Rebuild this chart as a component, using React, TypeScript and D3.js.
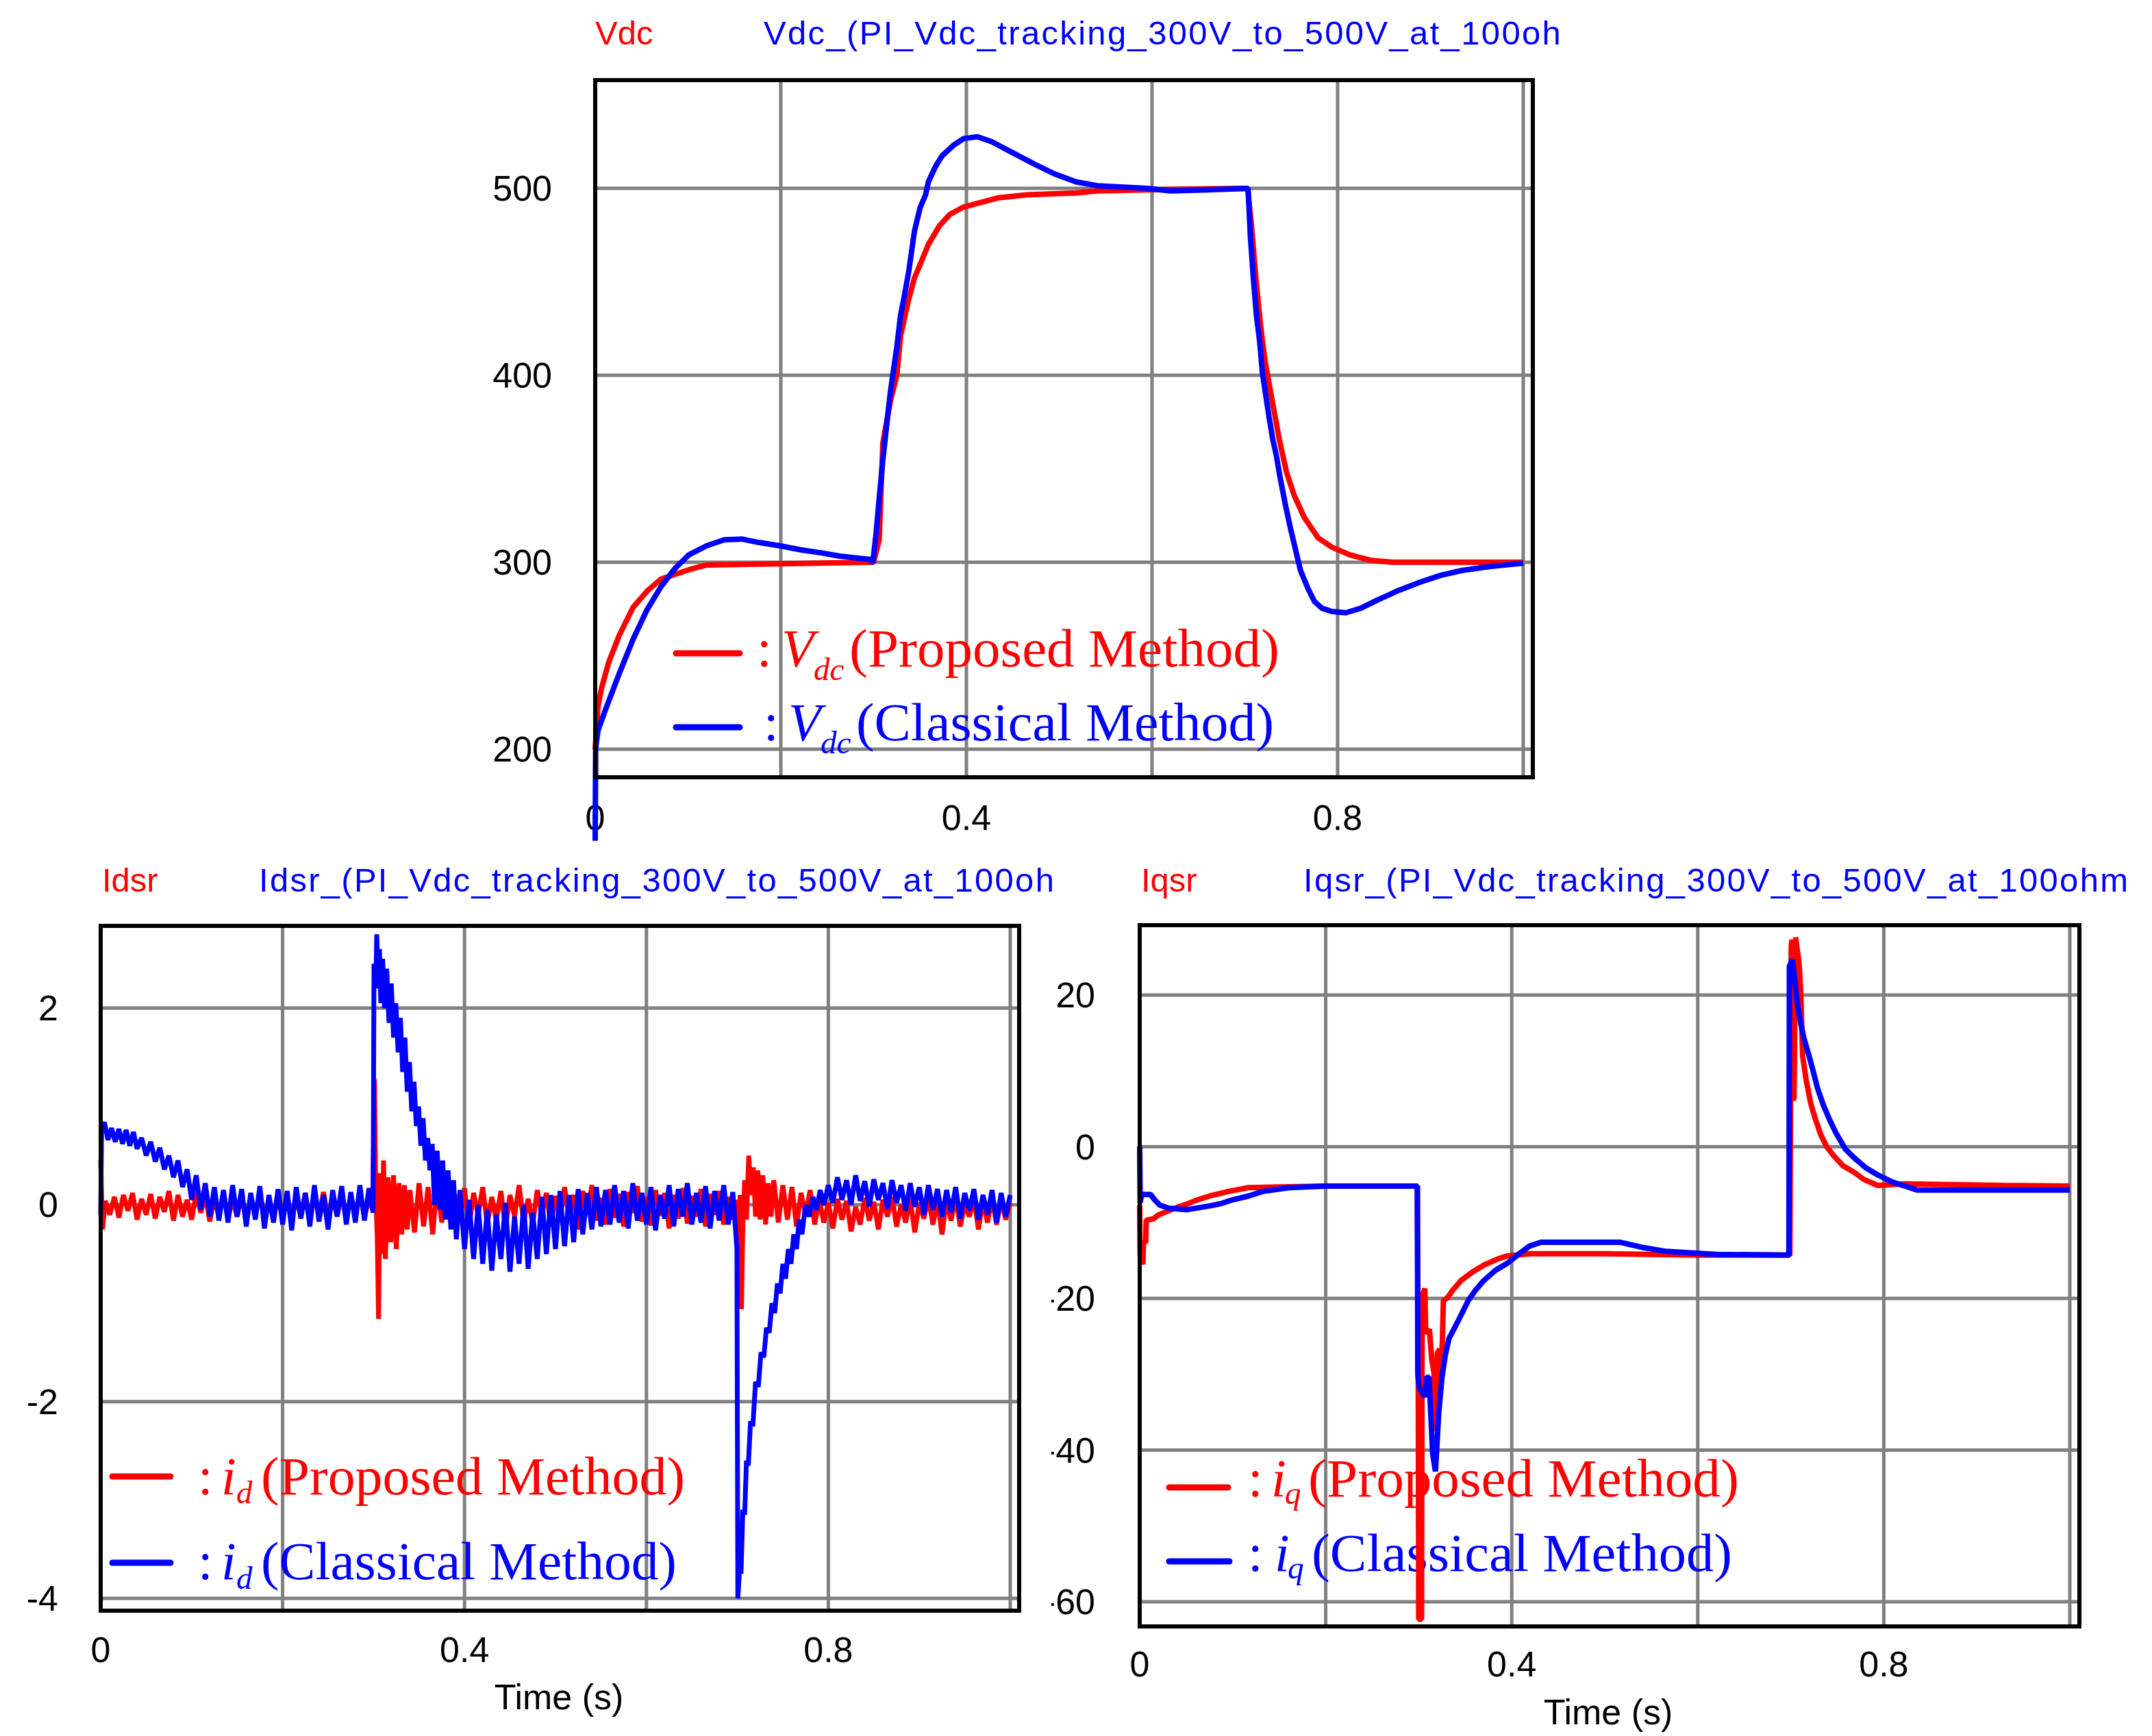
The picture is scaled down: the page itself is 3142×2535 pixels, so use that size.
import * as React from 'react';
import * as d3 from 'd3';

type Pt = [number, number];

const RED = '#ff0000';
const BLUE = '#0000ff';
const GRID = '#808080';

// tick values / labels
const timeTicks = [0, 0.4, 0.8];
const timeGrid = [0.2, 0.4, 0.6, 0.8, 1.0];
const vdcTicks = [200, 300, 400, 500];
const idsrTicks = [2, 0, -2, -4];
const iqsrTicks = [20, 0, -20, -40, -60];

// Vdc (V)
const vdcProposed: Pt[] = [
  [0, 200], [0.003, 223], [0.007, 233], [0.0146, 246.5], [0.026, 261], [0.041, 276], [0.056, 284.6],
  [0.071, 291], [0.086, 293.5], [0.101, 296], [0.12, 298.5], [0.2, 299.2], [0.3, 300], [0.306, 312],
  [0.31, 364], [0.318, 386], [0.325, 400], [0.329, 421], [0.337, 439], [0.344, 452], [0.352, 461.5],
  [0.359, 470], [0.371, 480], [0.382, 486], [0.397, 490], [0.412, 492], [0.435, 495], [0.465, 496.5],
  [0.518, 497.5], [0.541, 498.6], [0.632, 499.5], [0.703, 500], [0.707, 481], [0.711, 457], [0.715, 436],
  [0.719, 418], [0.722, 407], [0.73, 385], [0.737, 366], [0.745, 348], [0.753, 336], [0.764, 324],
  [0.779, 313], [0.794, 308], [0.813, 304], [0.836, 301], [0.859, 300], [1.0, 300],
];
const vdcClassical: Pt[] = [
  [0, 151], [0.0005, 200.5], [0.003, 210], [0.011, 221], [0.026, 240.6], [0.041, 259], [0.056, 274.7],
  [0.071, 287], [0.086, 296.7], [0.101, 304], [0.12, 308.8], [0.139, 312], [0.158, 312.4], [0.176, 310.6],
  [0.199, 308.8], [0.222, 306.6], [0.244, 305], [0.263, 303.3], [0.297, 301.5], [0.299, 299.5],
  [0.3026, 315], [0.306, 334], [0.31, 355], [0.314, 373], [0.318, 390.7], [0.3215, 403],
  [0.325, 415], [0.329, 432], [0.333, 442], [0.338, 456], [0.344, 477], [0.35, 489.5], [0.356, 496.5],
  [0.359, 503.5], [0.367, 512], [0.374, 517.5], [0.386, 523], [0.397, 526.6], [0.412, 527.6],
  [0.427, 525], [0.45, 519], [0.473, 513], [0.495, 507.7], [0.518, 503.5], [0.541, 501.4], [0.594, 500],
  [0.62, 498.6], [0.66, 499.2], [0.7035, 500], [0.706, 474], [0.709, 453], [0.7125, 432], [0.716, 418],
  [0.719, 401], [0.726, 378], [0.73, 366], [0.734, 357], [0.7375, 346.7], [0.7436, 331], [0.749, 318.5],
  [0.755, 306], [0.76, 295.6], [0.768, 286], [0.775, 279], [0.783, 275.4], [0.794, 273.6], [0.809, 273],
  [0.825, 275.4], [0.843, 279.8], [0.866, 285], [0.889, 289.4], [0.911, 293], [0.934, 295.6],
  [0.964, 297.7], [1.0, 299.5],
];

// Idsr (A)
const idsrProposed: Pt[] = [
  [0, 0.45], [0.002, -0.25], [0.005, 0.04], [0.01, -0.1], [0.015, 0.08], [0.02, -0.13], [0.025, 0.1],
  [0.03, -0.06], [0.035, 0.12], [0.04, -0.15], [0.045, 0.06], [0.05, -0.1], [0.055, 0.11], [0.06, -0.14],
  [0.065, 0.08], [0.07, -0.07], [0.075, 0.14], [0.08, -0.16], [0.085, 0.1], [0.09, -0.12], [0.095, 0.05],
  [0.1, -0.15], [0.105, 0.12], [0.11, -0.08], [0.115, 0.09], [0.12, -0.17], [0.125, 0.07], [0.13, -0.11],
  [0.135, 0.13], [0.14, -0.14], [0.145, 0.06], [0.15, -0.12], [0.155, 0.1], [0.16, -0.16], [0.165, 0.08],
  [0.17, -0.09], [0.175, 0.12], [0.18, -0.13], [0.185, 0.05], [0.19, -0.15], [0.195, 0.11], [0.2, -0.1],
  [0.205, 0.09], [0.21, -0.14], [0.215, 0.07], [0.22, -0.12], [0.225, 0.12], [0.23, -0.16], [0.235, 0.08],
  [0.24, -0.09], [0.245, 0.13], [0.25, -0.14], [0.255, 0.06], [0.26, -0.11], [0.265, 0.1], [0.27, -0.15],
  [0.275, 0.09], [0.28, -0.08], [0.285, 0.12], [0.29, -0.13], [0.295, 0.07], [0.299, -0.05],
  [0.301, 1.28], [0.3025, 0.05], [0.304, -0.3], [0.3055, -1.16], [0.307, 0.32], [0.309, -0.5],
  [0.311, 0.45], [0.313, -0.55], [0.316, 0.28], [0.319, -0.38], [0.322, 0.3], [0.325, -0.45],
  [0.328, 0.22], [0.331, -0.3], [0.334, 0.2], [0.337, -0.25], [0.34, 0.15], [0.345, -0.28], [0.35, 0.22],
  [0.355, -0.22], [0.36, 0.18], [0.365, -0.3], [0.37, 0.2], [0.375, -0.18], [0.38, 0.15], [0.385, -0.2],
  [0.39, 0.1], [0.395, -0.15], [0.4, 0.17], [0.405, -0.22], [0.41, 0.12], [0.415, -0.1], [0.42, 0.18],
  [0.425, -0.2], [0.43, 0.08], [0.435, -0.16], [0.44, 0.14], [0.445, -0.24], [0.45, 0.1], [0.455, -0.12],
  [0.46, 0.2], [0.465, -0.18], [0.47, 0.06], [0.475, -0.2], [0.48, 0.15], [0.485, -0.1], [0.49, 0.12],
  [0.495, -0.22], [0.5, 0.09], [0.505, -0.15], [0.51, 0.18], [0.515, -0.12], [0.52, 0.1], [0.525, -0.25],
  [0.53, 0.14], [0.535, -0.1], [0.54, 0.2], [0.545, -0.16], [0.55, 0.07], [0.555, -0.2], [0.56, 0.16],
  [0.565, -0.13], [0.57, 0.11], [0.575, -0.22], [0.58, 0.13], [0.585, -0.08], [0.59, 0.19], [0.595, -0.17],
  [0.6, 0.08], [0.605, -0.21], [0.61, 0.15], [0.615, -0.11], [0.62, 0.12], [0.625, -0.24], [0.63, 0.1],
  [0.635, -0.14], [0.64, 0.17], [0.645, -0.19], [0.65, 0.09], [0.655, -0.12], [0.66, 0.16], [0.665, -0.22],
  [0.67, 0.11], [0.675, -0.1], [0.68, 0.14], [0.685, -0.2], [0.69, 0.08], [0.695, -0.15], [0.699, 0.05],
  [0.7015, -0.55], [0.703, 0.1], [0.7045, -1.06], [0.706, -0.2], [0.708, 0.25], [0.71, -0.15],
  [0.7125, 0.5], [0.715, 0.1], [0.7175, 0.38], [0.72, -0.12], [0.7225, 0.35], [0.725, -0.15], [0.728, 0.3],
  [0.731, -0.2], [0.734, 0.22], [0.737, -0.12], [0.74, 0.25], [0.745, -0.18], [0.75, 0.2], [0.755, -0.15],
  [0.76, 0.18], [0.765, -0.22], [0.77, 0.12], [0.775, -0.1], [0.78, 0.15], [0.785, -0.2], [0.79, 0.05],
  [0.795, -0.18], [0.8, 0.02], [0.805, -0.24], [0.81, 0.06], [0.815, -0.15], [0.82, 0.04], [0.825, -0.27],
  [0.83, -0.02], [0.835, -0.2], [0.84, 0.07], [0.845, -0.16], [0.85, 0.03], [0.855, -0.25], [0.86, 0.05],
  [0.865, -0.12], [0.87, 0.08], [0.875, -0.22], [0.88, 0.0], [0.885, -0.18], [0.89, 0.06], [0.895, -0.28],
  [0.9, 0.02], [0.905, -0.14], [0.91, 0.07], [0.915, -0.2], [0.92, 0.04], [0.925, -0.3], [0.93, 0.05],
  [0.935, -0.16], [0.94, 0.08], [0.945, -0.22], [0.95, 0.0], [0.955, -0.12], [0.96, 0.06], [0.965, -0.25],
  [0.97, 0.03], [0.975, -0.18], [0.98, 0.07], [0.985, -0.2], [0.99, 0.05], [0.995, -0.15], [1.0, 0.02],
];
const idsrClassical: Pt[] = [
  [0, -0.1], [0.001, 0.75], [0.004, 0.84], [0.008, 0.66], [0.012, 0.78], [0.016, 0.64], [0.02, 0.77],
  [0.024, 0.62], [0.028, 0.76], [0.032, 0.6], [0.036, 0.74], [0.04, 0.57], [0.045, 0.68], [0.05, 0.5],
  [0.055, 0.64], [0.06, 0.44], [0.065, 0.58], [0.07, 0.36], [0.075, 0.5], [0.08, 0.28], [0.085, 0.45],
  [0.09, 0.18], [0.095, 0.36], [0.1, 0.05], [0.105, 0.3], [0.11, -0.05], [0.115, 0.22], [0.12, -0.12],
  [0.125, 0.18], [0.13, -0.16], [0.135, 0.15], [0.14, -0.18], [0.145, 0.2], [0.15, -0.12], [0.155, 0.16],
  [0.16, -0.22], [0.165, 0.12], [0.17, -0.15], [0.175, 0.19], [0.18, -0.24], [0.185, 0.1], [0.19, -0.18],
  [0.195, 0.16], [0.2, -0.2], [0.205, 0.14], [0.21, -0.26], [0.215, 0.18], [0.22, -0.14], [0.225, 0.12],
  [0.23, -0.22], [0.235, 0.2], [0.24, -0.17], [0.245, 0.1], [0.25, -0.25], [0.255, 0.15], [0.26, -0.12],
  [0.265, 0.19], [0.27, -0.2], [0.275, 0.13], [0.28, -0.18], [0.285, 0.2], [0.29, -0.16], [0.295, 0.17],
  [0.2995, -0.08], [0.3005, 2.45], [0.3025, 2.2], [0.3035, 2.75], [0.305, 2.3], [0.3065, 2.6],
  [0.308, 2.05], [0.31, 2.5], [0.312, 2.0], [0.3145, 2.4], [0.317, 1.85], [0.3195, 2.25], [0.322, 1.7],
  [0.3245, 2.05], [0.327, 1.55], [0.3295, 1.9], [0.332, 1.35], [0.3345, 1.7], [0.337, 1.15],
  [0.3395, 1.45], [0.342, 0.95], [0.3445, 1.25], [0.347, 0.8], [0.3495, 1.0], [0.352, 0.6], [0.3545, 0.88],
  [0.357, 0.45], [0.3595, 0.68], [0.362, 0.35], [0.3645, 0.62], [0.367, 0.0], [0.37, 0.55], [0.373, -0.05],
  [0.376, 0.45], [0.379, -0.15], [0.382, 0.35], [0.385, -0.25], [0.388, 0.25], [0.391, -0.35], [0.395, 0.15],
  [0.4, -0.45], [0.405, 0.05], [0.41, -0.55], [0.415, 0.0], [0.42, -0.6], [0.425, -0.05], [0.43, -0.67],
  [0.435, -0.1], [0.44, -0.55], [0.445, 0.02], [0.45, -0.68], [0.455, -0.12], [0.46, -0.6], [0.465, 0.0],
  [0.47, -0.65], [0.475, -0.08], [0.48, -0.55], [0.485, 0.08], [0.49, -0.5], [0.495, 0.1], [0.5, -0.45],
  [0.505, 0.14], [0.51, -0.42], [0.515, 0.1], [0.52, -0.38], [0.525, 0.16], [0.53, -0.3], [0.535, 0.12],
  [0.54, -0.25], [0.545, 0.18], [0.55, -0.22], [0.555, 0.15], [0.56, -0.2], [0.565, 0.2], [0.57, -0.18],
  [0.575, 0.14], [0.58, -0.24], [0.585, 0.22], [0.59, -0.16], [0.595, 0.12], [0.6, -0.2], [0.605, 0.18],
  [0.61, -0.26], [0.615, 0.1], [0.62, -0.14], [0.625, 0.2], [0.63, -0.22], [0.635, 0.16], [0.64, -0.12],
  [0.645, 0.22], [0.65, -0.2], [0.655, 0.12], [0.66, -0.18], [0.665, 0.19], [0.67, -0.24], [0.675, 0.14],
  [0.68, -0.16], [0.685, 0.2], [0.69, -0.2], [0.695, 0.13], [0.6995, -0.45], [0.7005, -4.0],
  [0.7025, -3.7], [0.704, -3.75], [0.706, -3.1], [0.708, -3.15], [0.71, -2.6], [0.712, -2.65],
  [0.7145, -2.2], [0.717, -2.25], [0.72, -1.8], [0.723, -1.85], [0.726, -1.5], [0.729, -1.55],
  [0.732, -1.25], [0.735, -1.3], [0.738, -1.0], [0.741, -1.1], [0.744, -0.8], [0.747, -0.9], [0.75, -0.6],
  [0.753, -0.75], [0.756, -0.45], [0.759, -0.6], [0.762, -0.3], [0.765, -0.45], [0.768, -0.15],
  [0.771, -0.3], [0.775, 0.0], [0.779, -0.12], [0.783, 0.08], [0.787, -0.05], [0.791, 0.15], [0.795, 0.0],
  [0.8, 0.2], [0.805, 0.02], [0.81, 0.28], [0.815, 0.05], [0.82, 0.25], [0.825, 0.0], [0.83, 0.3],
  [0.835, 0.04], [0.84, 0.24], [0.845, -0.02], [0.85, 0.26], [0.855, 0.05], [0.86, 0.22], [0.865, -0.04],
  [0.87, 0.25], [0.875, 0.02], [0.88, 0.2], [0.885, -0.06], [0.89, 0.22], [0.895, -0.02], [0.9, 0.18],
  [0.905, -0.1], [0.91, 0.2], [0.915, -0.05], [0.92, 0.16], [0.925, -0.12], [0.93, 0.15], [0.935, -0.08],
  [0.94, 0.18], [0.945, -0.14], [0.95, 0.12], [0.955, -0.06], [0.96, 0.16], [0.965, -0.15], [0.97, 0.1],
  [0.975, -0.1], [0.98, 0.15], [0.985, -0.18], [0.99, 0.12], [0.995, -0.12], [1.0, 0.1],
];

// Iqsr (A)
const iqsrProposed: Pt[] = [
  [0, -7.7], [0.0005, -14.4], [0.0035, -15.5], [0.004, -12.6], [0.0065, -12.6], [0.007, -9.7],
  [0.015, -9.5], [0.02, -9.0], [0.03, -8.5], [0.04, -8.0], [0.05, -7.6], [0.06, -7.1], [0.075, -6.5],
  [0.095, -5.9], [0.117, -5.4], [0.15, -5.3], [0.2, -5.2], [0.2985, -5.2], [0.2995, -30], [0.3, -62.3],
  [0.303, -62.3], [0.3035, -28], [0.304, -19.6], [0.3066, -18.7], [0.3075, -24.6], [0.3115, -24.1],
  [0.314, -28], [0.3164, -29.8], [0.3188, -37.5], [0.32, -27.2], [0.3225, -26.7], [0.324, -29.8],
  [0.3255, -25.3], [0.3265, -20.3], [0.331, -19.9], [0.336, -19], [0.3459, -17.6], [0.358, -16.5],
  [0.3703, -15.6], [0.385, -14.8], [0.395, -14.4], [0.42, -14.1], [0.5, -14.1], [0.6, -14.3],
  [0.699, -14.3], [0.7005, 26.5], [0.7015, 27.3], [0.7025, 6.1], [0.7035, 6.5], [0.7052, 27.6],
  [0.7089, 24.2], [0.7109, 19.9], [0.7127, 12], [0.7164, 8.9], [0.7213, 5.8], [0.7263, 3.7],
  [0.7325, 1.5], [0.7387, 0], [0.7462, -1.2], [0.7561, -2.5], [0.7685, -3.4], [0.7784, -4.3],
  [0.7933, -5.1], [0.8231, -4.9], [0.93, -5.1], [1.0, -5.2],
];
const iqsrClassical: Pt[] = [
  [0, 0], [0.0005, -7.4], [0.002, -6.3], [0.0117, -6.3], [0.0154, -6.9], [0.0215, -7.7], [0.0313, -8.1],
  [0.0509, -8.3], [0.0753, -7.8], [0.0875, -7.5], [0.0998, -7.0], [0.117, -6.5], [0.132, -5.9],
  [0.161, -5.4], [0.2, -5.2], [0.2985, -5.2], [0.299, -30], [0.3005, -31.8], [0.3066, -33],
  [0.3085, -30.4], [0.311, -30.4], [0.3125, -34.1], [0.315, -40.5], [0.318, -42.8], [0.3215, -35.1],
  [0.325, -30.4], [0.3285, -27.5], [0.3325, -25.3], [0.3385, -23.9], [0.3459, -22.1], [0.3532, -20.3],
  [0.3605, -19], [0.3703, -17.6], [0.3825, -16.3], [0.3948, -15.4], [0.407, -14.2], [0.4192, -13.1],
  [0.4314, -12.6], [0.517, -12.6], [0.5415, -13.3], [0.566, -13.8], [0.62, -14.2], [0.698, -14.3],
  [0.6985, 23.8], [0.7015, 24.7], [0.704, 22.4], [0.7065, 19.3], [0.7102, 16.6], [0.7139, 14.4],
  [0.7189, 12.3], [0.7238, 10.1], [0.7288, 7.7], [0.735, 5.5], [0.7412, 3.7], [0.7486, 1.8],
  [0.7586, -0.3], [0.7685, -1.5], [0.7809, -2.8], [0.7933, -3.7], [0.8082, -4.6], [0.8231, -5.2],
  [0.8355, -5.7], [1.0, -5.7],
];

const SANS = '"Liberation Sans", Arial, sans-serif';
const SERIF = '"Liberation Serif", "Times New Roman", serif';

interface LegendRow {
  color: string;
  seg: [number, number, number]; // x0, x1, y
  colonX: number;
  symX: number;
  subX: number;
  baseline: number;
  subBaseline: number;
  textX: number;
  label: string;
  labelWidth: number;
}

interface PanelProps {
  id: string;
  frame: { left: number; right: number; top: number; bottom: number };
  xRange: [number, number];
  yDomain: [number, number];
  yRange: [number, number];
  yTicks: number[];
  yLabelX: number;
  xLabelY: number;
  timeLabel?: [number, number];
  clip: [number, number];
  titleY: number;
  nameX: number;
  name: string;
  fullX: number;
  full: string;
  fullLength: number;
  sym: string;
  sub: string;
  legend: LegendRow[];
  proposed: Pt[];
  classical: Pt[];
  lineWidth: number;
}

const Panel: React.FC<PanelProps> = (p) => {
  const x = d3.scaleLinear().domain([0, 1]).range(p.xRange);
  const y = d3.scaleLinear().domain(p.yDomain).range(p.yRange);
  const line = d3.line<Pt>().x(d => x(d[0])).y(d => y(d[1]));
  const { left, right, top, bottom } = p.frame;
  const clipId = `clip-${p.id}`;

  return (
    <g>
      <defs>
        <clipPath id={clipId}>
          <rect x={p.clip[0]} y={0} width={p.clip[1] - p.clip[0]} height={2535} />
        </clipPath>
      </defs>
      <g clipPath={`url(#${clipId})`} fontFamily={SANS}>
        <text x={p.nameX} y={p.titleY} fill={RED} fontSize={49}>{p.name}</text>
        <text x={p.fullX} y={p.titleY} fill={BLUE} fontSize={49} textLength={p.fullLength}
          lengthAdjust="spacing">{p.full}</text>
        {p.yTicks.map(v => (
          <text key={v} x={p.yLabelX} y={y(v) + 18} textAnchor="end" fill="#000" fontSize={52}>{String(v)}</text>
        ))}
      </g>
      <g fontFamily={SANS} fontSize={52} fill="#000">
        {timeTicks.map(t => (
          <text key={t} x={x(t)} y={p.xLabelY} textAnchor="middle">{String(t)}</text>
        ))}
        {p.timeLabel && (
          <text x={p.timeLabel[0]} y={p.timeLabel[1]} textAnchor="middle">Time (s)</text>
        )}
      </g>
      {/* grid */}
      <g stroke={GRID} strokeWidth={5}>
        {timeGrid.map(t => (
          <line key={t} x1={x(t)} x2={x(t)} y1={top} y2={bottom} />
        ))}
        {p.yTicks.map(v => (
          <line key={v} x1={left} x2={right} y1={y(v)} y2={y(v)} />
        ))}
      </g>
      {/* legend */}
      {p.legend.map((r, i) => (
        <g key={i}>
          <line x1={r.seg[0]} x2={r.seg[1]} y1={r.seg[2]} y2={r.seg[2]} stroke={r.color}
            strokeWidth={9} strokeLinecap="round" />
          <text fill={r.color} fontFamily={SERIF} fontSize={78}>
            <tspan x={r.colonX} y={r.baseline}>:</tspan>
            <tspan x={r.symX} y={r.baseline} fontStyle="italic">{p.sym}</tspan>
            <tspan x={r.subX} y={r.subBaseline} fontStyle="italic" fontSize={47}>{p.sub}</tspan>
            <tspan x={r.textX} y={r.baseline} textLength={r.labelWidth}
              lengthAdjust="spacingAndGlyphs">{r.label}</tspan>
          </text>
        </g>
      ))}
      {/* data */}
      <path d={line(p.proposed) || undefined} fill="none" stroke={RED} strokeWidth={p.lineWidth}
        strokeLinejoin="bevel" />
      <path d={line(p.classical) || undefined} fill="none" stroke={BLUE} strokeWidth={p.lineWidth}
        strokeLinejoin="bevel" />
      <rect x={left} y={top} width={right - left} height={bottom - top} fill="none" stroke="#000" strokeWidth={6} />
    </g>
  );
};

const App: React.FC = () => (
  <svg width={3142} height={2535} viewBox="0 0 3142 2535"
    style={{ position: 'absolute', left: 0, top: 0, background: '#fff' }}>
    <rect x={0} y={0} width={3142} height={2535} fill="#fff" />
    <Panel
      id="vdc"
      frame={{ left: 869, right: 2238, top: 117, bottom: 1135 }}
      xRange={[869, 2224]}
      yDomain={[200, 500]}
      yRange={[1094, 275]}
      yTicks={vdcTicks}
      yLabelX={806}
      xLabelY={1212}
      clip={[0, 2280]}
      titleY={65}
      nameX={869}
      name="Vdc"
      fullX={1115}
      full="Vdc_(PI_Vdc_tracking_300V_to_500V_at_100ohm"
      fullLength={1207}
      sym="V"
      sub="dc"
      legend={[
        { color: RED, seg: [987, 1080, 954], colonX: 1105, symX: 1141, subX: 1188, baseline: 973,
          subBaseline: 993, textX: 1240, label: '(Proposed Method)', labelWidth: 628 },
        { color: BLUE, seg: [987, 1080, 1062], colonX: 1115, symX: 1151, subX: 1198, baseline: 1081,
          subBaseline: 1100, textX: 1250, label: '(Classical Method)', labelWidth: 610 },
      ]}
      proposed={vdcProposed}
      classical={vdcClassical}
      lineWidth={8}
    />
    <Panel
      id="idsr"
      frame={{ left: 147, right: 1488, top: 1352, bottom: 2352 }}
      xRange={[147, 1475]}
      yDomain={[-4, 2]}
      yRange={[2334, 1472]}
      yTicks={idsrTicks}
      yLabelX={85}
      xLabelY={2427}
      timeLabel={[816, 2496]}
      clip={[0, 1540]}
      titleY={1302}
      nameX={149}
      name="Idsr"
      fullX={378}
      full="Idsr_(PI_Vdc_tracking_300V_to_500V_at_100ohm"
      fullLength={1204}
      sym="i"
      sub="d"
      legend={[
        { color: RED, seg: [164, 249, 2156], colonX: 289, symX: 323, subX: 345, baseline: 2182,
          subBaseline: 2195, textX: 381, label: '(Proposed Method)', labelWidth: 619 },
        { color: BLUE, seg: [164, 249, 2282], colonX: 289, symX: 323, subX: 345, baseline: 2306,
          subBaseline: 2320, textX: 381, label: '(Classical Method)', labelWidth: 607 },
      ]}
      proposed={idsrProposed}
      classical={idsrClassical}
      lineWidth={7}
    />
    <Panel
      id="iqsr"
      frame={{ left: 1664, right: 3036, top: 1351, bottom: 2375 }}
      xRange={[1664, 3022]}
      yDomain={[-60, 20]}
      yRange={[2339, 1453]}
      yTicks={iqsrTicks}
      yLabelX={1599}
      xLabelY={2448}
      timeLabel={[2348, 2518]}
      clip={[1535, 3142]}
      titleY={1302}
      nameX={1666}
      name="Iqsr"
      fullX={1903}
      full="Iqsr_(PI_Vdc_tracking_300V_to_500V_at_100ohm"
      fullLength={1204}
      sym="i"
      sub="q"
      legend={[
        { color: RED, seg: [1707, 1793, 2172], colonX: 1822, symX: 1856, subX: 1876, baseline: 2185,
          subBaseline: 2196, textX: 1910, label: '(Proposed Method)', labelWidth: 629 },
        { color: BLUE, seg: [1707, 1795, 2280], colonX: 1822, symX: 1861, subX: 1880, baseline: 2294,
          subBaseline: 2305, textX: 1915, label: '(Classical Method)', labelWidth: 614 },
      ]}
      proposed={iqsrProposed}
      classical={iqsrClassical}
      lineWidth={8}
    />
  </svg>
);

export default App;
